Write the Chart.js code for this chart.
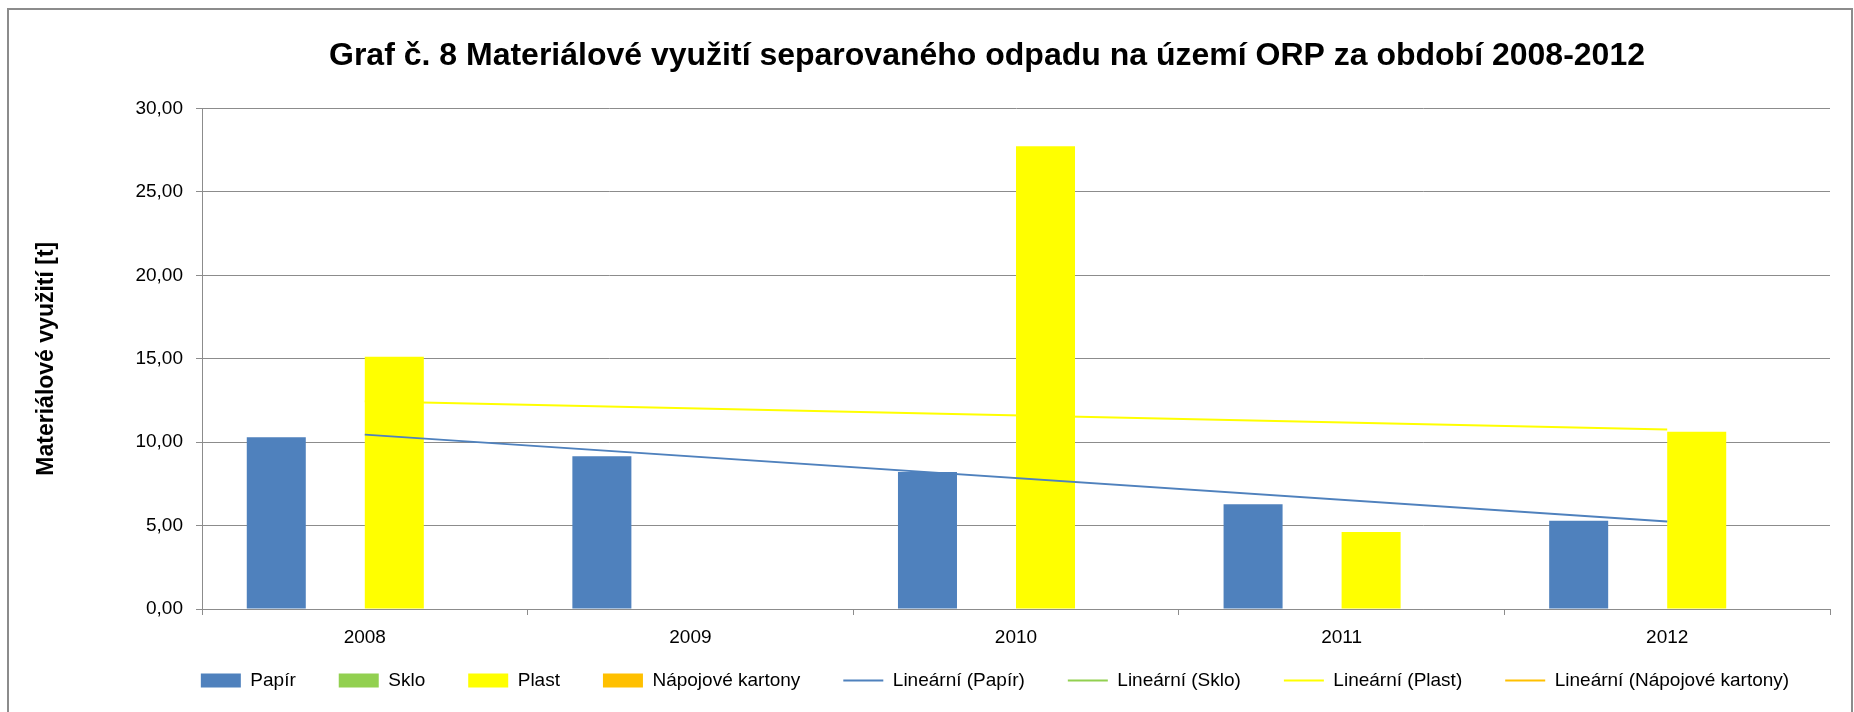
<!DOCTYPE html>
<html lang="cs">
<head>
<meta charset="utf-8">
<title>Graf č. 8</title>
<script src="https://cdn.jsdelivr.net/npm/chart.js@4.4.1/dist/chart.umd.min.js"></script>
<style>
  html, body { margin: 0; padding: 0; background: #fff; overflow: hidden; }
  #wrap { position: relative; width: 1854px; height: 712px; }
  #frame { position: absolute; left: 7px; top: 8px; width: 1842px; height: 760px; border: 2px solid #8c8c8c; pointer-events: none; }
</style>
</head>
<body>
<div id="wrap">
  <canvas id="graf"></canvas>
  <div id="frame"></div>
</div>
<script>
// roky a hodnoty [t]
const roky = ["2008", "2009", "2010", "2011", "2012"];
const papir = [10.30, 9.15, 8.21, 6.28, 5.29];
const sklo = [0, 0, 0, 0, 0];
const plast = [15.12, 0, 27.73, 4.62, 10.62];
const kartony = [0, 0, 0, 0, 0];

// spojnice trendu - jen krajní body (2008 a 2012)
const trendPapir = [10.45, null, null, null, 5.25];
const trendPlast = [12.45, null, null, null, 10.75];

const MODRA = "#4F81BD";
const ZELENA = "#92D050";
const ZLUTA = "#FFFF00";
const ORANZOVA = "#FFC000";
const SEDA = "#8c8c8c";

Chart.defaults.font.family = "'Liberation Sans', Arial, sans-serif";
Chart.defaults.color = "#000";

// titulek a legenda jsou v Excelu posunuté trochu doprava,
// legenda navíc výš (padding určuje i mezery mezi položkami)
const posunBloku = {
  id: "posunBloku",
  afterLayout(chart) {
    chart.titleBlock.left += 72;
    chart.titleBlock.right += 72;
    chart.legend.left += 80;
    chart.legend.right += 80;
    chart.legend.top -= 21;
    chart.legend.bottom -= 21;
  }
};

function sloupec(label, data, barva) {
  return {
    label: label,
    data: data,
    backgroundColor: barva,
    borderWidth: 0,
    categoryPercentage: 0.725,
    barPercentage: 1.0,
    order: 1
  };
}

function trend(label, data, barva) {
  return {
    type: "line",
    label: label,
    data: data,
    borderColor: barva,
    backgroundColor: barva,
    borderWidth: 2,
    pointRadius: 0,
    spanGaps: true,
    fill: false,
    order: 0
  };
}

new Chart(document.getElementById("graf"), {
  type: "bar",
  data: {
    labels: roky,
    datasets: [
      sloupec("Papír", papir, MODRA),
      sloupec("Sklo", sklo, ZELENA),
      sloupec("Plast", plast, ZLUTA),
      sloupec("Nápojové kartony", kartony, ORANZOVA),
      trend("Lineární (Papír)", trendPapir, MODRA),
      trend("Lineární (Sklo)", [], ZELENA),
      trend("Lineární (Plast)", trendPlast, ZLUTA),
      trend("Lineární (Nápojové kartony)", [], ORANZOVA)
    ]
  },
  options: {
    responsive: true,
    maintainAspectRatio: false,
    animation: false,
    layout: { padding: { left: 0, right: 24, top: 0, bottom: 0 } },
    plugins: {
      title: {
        display: true,
        text: "Graf č. 8 Materiálové využití separovaného odpadu na území ORP za období 2008-2012",
        font: { size: 32, weight: "bold" },
        color: "#000",
        padding: { top: 37, bottom: 33 }
      },
      legend: {
        position: "bottom",
        maxHeight: 63,
        labels: {
          font: { size: 19 },
          padding: 43,
          usePointStyle: true,
          pointStyleWidth: 40,
          boxHeight: 14,
          generateLabels(chart) {
            return chart.data.datasets.map((ds, i) => {
              const cara = ds.type === "line";
              return {
                text: ds.label,
                datasetIndex: i,
                pointStyle: cara ? "line" : "rect",
                fillStyle: cara ? "rgba(0,0,0,0)" : ds.backgroundColor,
                strokeStyle: ds.borderColor || ds.backgroundColor,
                lineWidth: cara ? 2 : 0,
                hidden: false,
                fontColor: "#000"
              };
            });
          }
        }
      },
      tooltip: { enabled: false }
    },
    scales: {
      x: {
        grid: { drawOnChartArea: false, tickLength: 6, color: SEDA },
        border: { color: SEDA },
        ticks: { font: { size: 19 }, padding: 11, color: "#000" },
        afterFit(scale) { scale.height = 40; }
      },
      y: {
        min: 0,
        max: 30,
        ticks: {
          stepSize: 5,
          font: { size: 19 },
          padding: 13,
          color: "#000",
          callback: v => v.toFixed(2).replace(".", ",")
        },
        grid: { color: SEDA, tickLength: 6 },
        border: { color: SEDA },
        title: {
          display: true,
          text: "Materiálové využití [t]",
          font: { size: 23, weight: "bold" },
          color: "#000",
          padding: { top: 33, bottom: 0 }
        },
        afterFit(scale) { scale.width = 202; }
      }
    }
  },
  plugins: [posunBloku]
});
</script>
</body>
</html>
